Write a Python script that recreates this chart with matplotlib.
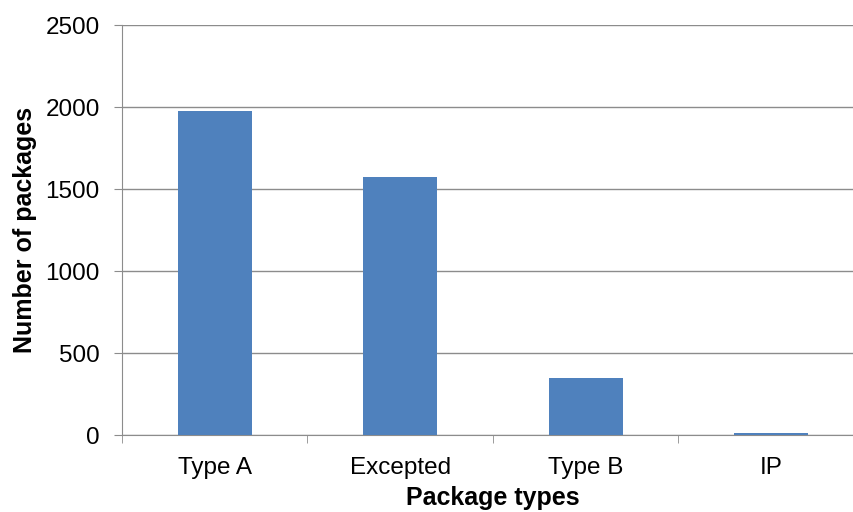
import numpy as np
import matplotlib
matplotlib.use("Agg")
import matplotlib.pyplot as plt

categories = ["Type A", "Excepted", "Type B", "IP"]
counts = [1975, 1572, 350, 14]

plt.rcParams['font.family'] = ['Liberation Sans', 'DejaVu Sans']

fig = plt.figure(figsize=(8.54, 5.12), dpi=100)
ax = fig.add_axes([122 / 854, 77 / 512, 742 / 854, 410 / 512])

x = np.arange(len(categories))
ax.bar(x, counts, width=0.4, color="#4F81BD", zorder=3)

ax.set_xlim(-0.5, len(categories) - 0.5)
ax.set_ylim(0, 2500)
ax.set_yticks(np.arange(0, 2501, 500))
ax.set_xticks(x)
ax.set_xticklabels(categories)
ax.set_xticks(np.arange(-0.5, len(categories), 1.0), minor=True)

ax.yaxis.grid(True, color="#8c8c8c", linewidth=1, zorder=0)
for s in ["top", "right"]:
    ax.spines[s].set_visible(False)
ax.spines["left"].set_color("#8c8c8c")
ax.spines["bottom"].set_color("#8c8c8c")

ax.tick_params(axis="y", length=6, color="#8c8c8c", pad=10, labelsize=17.5)
ax.tick_params(axis="x", which="major", length=0, pad=16, labelsize=17.5)
ax.tick_params(axis="x", which="minor", length=6, color="#8c8c8c")

ax.set_ylabel("Number of packages", fontsize=18, fontweight="bold", labelpad=6)
ax.set_xlabel("Package types", fontsize=18, fontweight="bold", labelpad=5)

fig.savefig("out.png", dpi=100)
